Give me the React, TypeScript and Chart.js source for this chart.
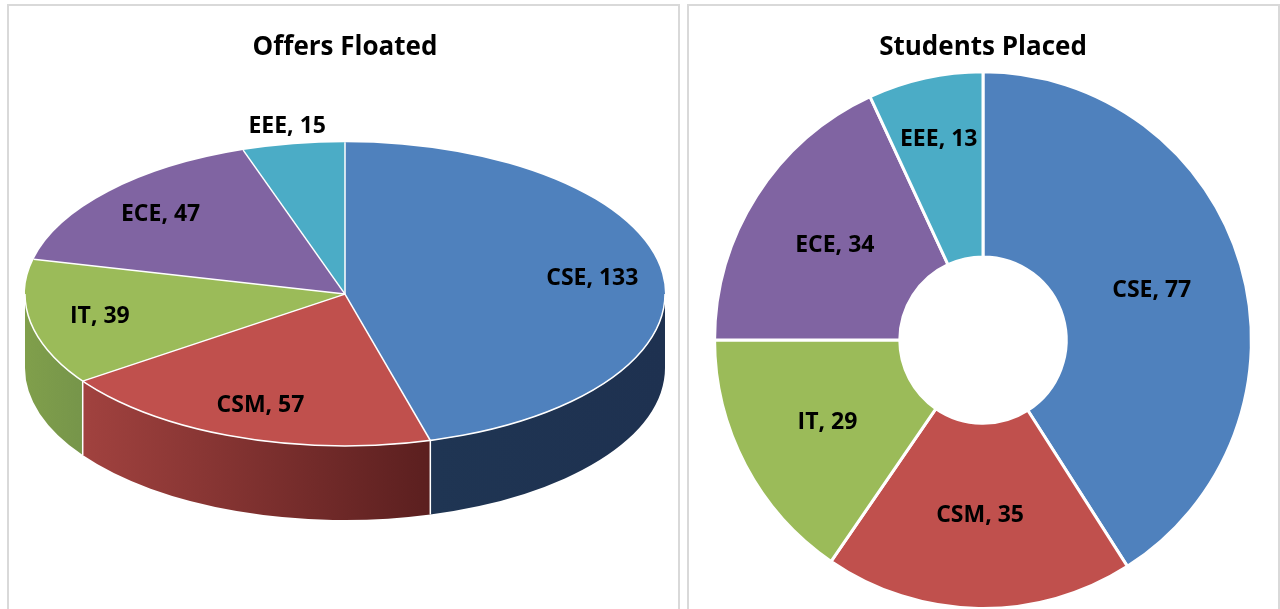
import React, { useEffect, useRef } from "react";
import { Chart, registerables } from "chart.js";

Chart.register(...registerables);

const categories = ["CSE", "CSM", "IT", "ECE", "EEE"];
const offersFloated = [133, 57, 39, 47, 15];
const studentsPlaced = [77, 35, 29, 34, 13];
const sliceColors = ["#4F81BD", "#C0504D", "#9BBB59", "#8064A2", "#4BACC6"];
const wallColorsLeft = ["#1F3553", "#A1423F", "#809F4B", "#60497C", "#368399"];
const wallColorsRight = ["#1E3150", "#5B1F1F", "#76954A", "#4C3A63", "#2A6879"];
const chartTitles = ["Offers Floated", "Students Placed"];

const FONT_FAMILY = "'Open Sans', Lato, sans-serif";
const LABEL_FONT = `bold 23px ${FONT_FAMILY}`;
const TITLE_SIZE = 26;

const pie3dPlugin: any = {
  id: "pie3d",
  beforeDatasetsDraw(chart: any, _args: any, opts: any) {
    const meta = chart.getDatasetMeta(0);
    const arcs = meta.data as any[];
    if (!arcs.length) return;
    const ctx = chart.ctx as CanvasRenderingContext2D;
    const ca = chart.chartArea;
    const depth = opts.depth;
    const rx = (ca.right - ca.left) / 2;
    const ry = (ca.bottom - ca.top - depth) / 2;
    const cx = (ca.left + ca.right) / 2;
    const cy = ca.top + ry;
    chart.$pie3d = { rx, ry, cx, cy, depth };
    // side walls (front half only)
    arcs.forEach((arc: any, i: number) => {
      const a1 = Math.max(arc.startAngle, 0);
      const a2 = Math.min(arc.endAngle, Math.PI);
      if (a2 <= a1) return;
      const xr = cx + rx * Math.cos(a1);
      const xl = cx + rx * Math.cos(a2);
      const g = ctx.createLinearGradient(xl, 0, xr, 0);
      g.addColorStop(0, wallColorsLeft[i]);
      g.addColorStop(1, wallColorsRight[i]);
      ctx.beginPath();
      ctx.ellipse(cx, cy, rx, ry, 0, a1, a2, false);
      ctx.lineTo(cx + rx * Math.cos(a2), cy + depth + ry * Math.sin(a2));
      ctx.ellipse(cx, cy + depth, rx, ry, 0, a2, a1, true);
      ctx.closePath();
      ctx.fillStyle = g;
      ctx.fill();
    });
    ctx.save();
    ctx.strokeStyle = "#ffffff";
    ctx.lineWidth = 1.5;
    arcs.forEach((arc: any) => {
      const a = arc.endAngle;
      if (a > 0 && a < Math.PI) {
        const x = cx + rx * Math.cos(a);
        const y = cy + ry * Math.sin(a);
        ctx.beginPath();
        ctx.moveTo(x, y);
        ctx.lineTo(x, y + depth);
        ctx.stroke();
      }
    });
    ctx.restore();
    // squash the flat pie drawn by Chart.js into the top face ellipse
    const first = arcs[0];
    ctx.save();
    ctx.translate(cx, cy);
    ctx.scale(rx / first.outerRadius, ry / first.outerRadius);
    ctx.translate(-first.x, -first.y);
  },
  afterDatasetsDraw(chart: any) {
    const ctx = chart.ctx as CanvasRenderingContext2D;
    const meta = chart.getDatasetMeta(0);
    const arcs = meta.data as any[];
    if (!arcs.length) return;
    ctx.restore();
    const { rx, ry, cx, cy } = chart.$pie3d;
    const values = chart.data.datasets[0].data as number[];
    ctx.save();
    ctx.strokeStyle = "#ffffff";
    ctx.lineWidth = 1.5;
    arcs.forEach((arc: any) => {
      const a = arc.startAngle;
      ctx.beginPath();
      ctx.moveTo(cx, cy);
      ctx.lineTo(cx + rx * Math.cos(a), cy + ry * Math.sin(a));
      ctx.stroke();
    });
    ctx.beginPath();
    ctx.ellipse(cx, cy, rx, ry, 0, 0, Math.PI);
    ctx.stroke();
    ctx.fillStyle = "#000000";
    ctx.font = LABEL_FONT;
    ctx.textAlign = "center";
    ctx.textBaseline = "middle";
    arcs.forEach((arc: any, i: number) => {
      const mid = (arc.startAngle + arc.endAngle) / 2;
      const frac = arc.circumference / (2 * Math.PI);
      const r = frac < 0.07 ? 1.12 : 0.78;
      const x = cx + rx * r * Math.cos(mid);
      const y = cy + ry * r * Math.sin(mid);
      ctx.fillText(`${categories[i]}, ${values[i]}`, x, y);
    });
    ctx.restore();
  },
};

const doughnutLabelPlugin: any = {
  id: "doughnutLabels",
  afterDatasetsDraw(chart: any) {
    const ctx = chart.ctx as CanvasRenderingContext2D;
    const meta = chart.getDatasetMeta(0);
    const arcs = meta.data as any[];
    const values = chart.data.datasets[0].data as number[];
    ctx.save();
    ctx.fillStyle = "#000000";
    ctx.font = LABEL_FONT;
    ctx.textAlign = "center";
    ctx.textBaseline = "middle";
    arcs.forEach((arc: any, i: number) => {
      const mid = (arc.startAngle + arc.endAngle) / 2;
      const frac = arc.circumference / (2 * Math.PI);
      const inner = arc.innerRadius;
      const outer = arc.outerRadius;
      const r = frac < 0.1 ? inner + 0.66 * (outer - inner) : (inner + outer) / 2;
      ctx.fillText(`${categories[i]}, ${values[i]}`, arc.x + r * Math.cos(mid), arc.y + r * Math.sin(mid));
    });
    ctx.restore();
  },
};

const titleOptions = (text: string, bottom: number) => ({
  display: true,
  text,
  color: "#000000",
  font: { family: FONT_FAMILY, size: TITLE_SIZE, weight: "bold", lineHeight: 1.2 },
  padding: { top: 28, bottom },
});

function makePieConfig(): any {
  return {
    type: "pie",
    data: {
      labels: categories,
      datasets: [
        { data: offersFloated, backgroundColor: sliceColors, borderWidth: 0, clip: false },
      ],
    },
    options: {
      responsive: false,
      animation: false,
      events: [],
      layout: { padding: { left: 18, right: 15, top: 0, bottom: 104 } },
      plugins: {
        legend: { display: false },
        tooltip: { enabled: false },
        title: titleOptions(chartTitles[0], 79),
        pie3d: { depth: 74 },
      },
    },
    plugins: [pie3dPlugin],
  };
}

function makeDoughnutConfig(): any {
  return {
    type: "doughnut",
    data: {
      labels: categories,
      datasets: [
        {
          data: studentsPlaced,
          backgroundColor: sliceColors,
          borderColor: "#ffffff",
          borderWidth: 3,
        },
      ],
    },
    options: {
      responsive: false,
      animation: false,
      events: [],
      cutout: "31%",
      layout: { padding: { left: 26, right: 27, top: 0, bottom: 14 } },
      plugins: {
        legend: { display: false },
        tooltip: { enabled: false },
        title: titleOptions(chartTitles[1], 7),
      },
    },
    plugins: [doughnutLabelPlugin],
  };
}

function ChartCanvas(props: { make: () => any; left: number; top: number; width: number; height: number }) {
  const ref = useRef<HTMLCanvasElement>(null);
  useEffect(() => {
    const chart = new Chart(ref.current as HTMLCanvasElement, props.make());
    return () => chart.destroy();
  }, []);
  return (
    <canvas
      ref={ref}
      width={props.width}
      height={props.height}
      style={{ position: "absolute", left: props.left, top: props.top, width: props.width, height: props.height }}
    />
  );
}

const panelStyle = (left: number, width: number): React.CSSProperties => ({
  position: "absolute",
  left,
  top: 4,
  width,
  height: 660,
  border: "2px solid #D9D9D9",
  boxSizing: "border-box",
});

export default function App() {
  return (
    <div
      style={{
        position: "fixed",
        left: 0,
        top: 0,
        width: 1280,
        height: 609,
        overflow: "hidden",
        background: "#ffffff",
      }}
    >
      <div style={panelStyle(7, 673)} />
      <div style={panelStyle(687, 593)} />
      <ChartCanvas make={makePieConfig} left={7} top={4} width={673} height={620} />
      <ChartCanvas make={makeDoughnutConfig} left={687} top={4} width={593} height={620} />
    </div>
  );
}
